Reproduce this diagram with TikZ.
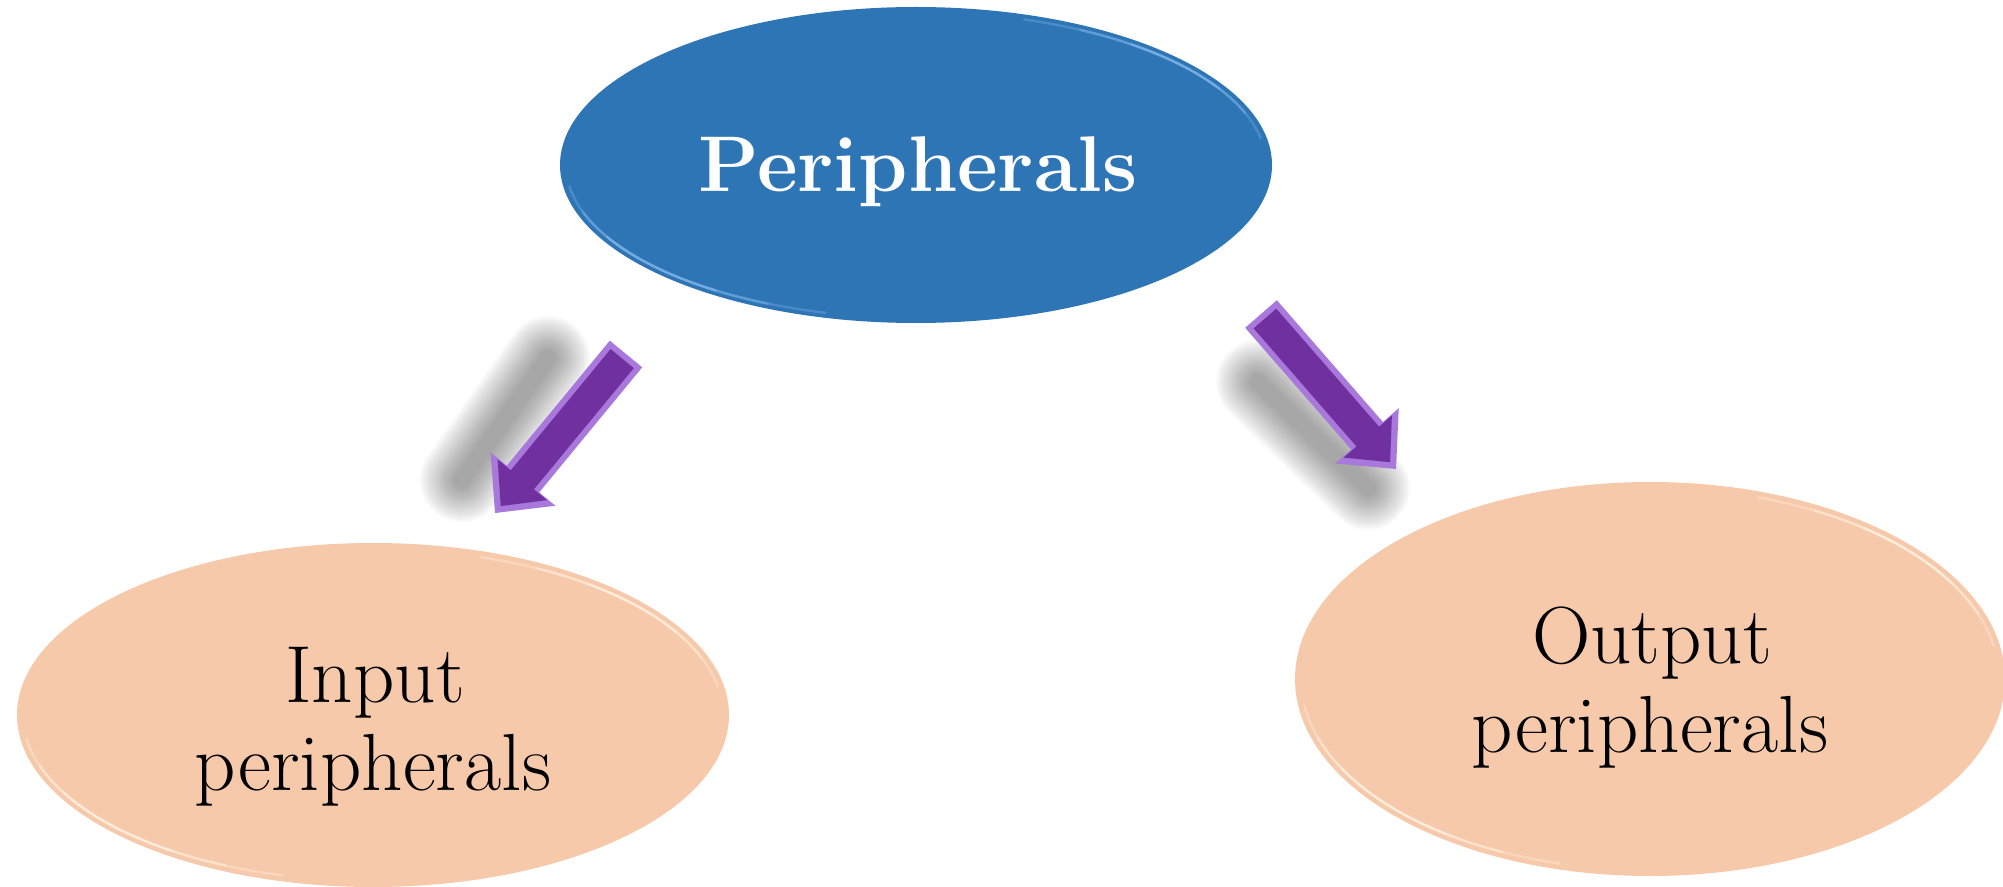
\documentclass[tikz,border=0pt]{standalone}
\usepackage{fontspec}
\usetikzlibrary{shapes.geometric,calc}
\definecolor{topblue}{HTML}{2E75B6}
\definecolor{rimblue}{HTML}{8CC0F0}
\definecolor{peach}{HTML}{F6C9AB}
\definecolor{rimpeach}{HTML}{FFF8EA}
\definecolor{arrowpurple}{HTML}{7030A0}
\definecolor{arrowlight}{HTML}{A878DA}
% #1 tail, #2 tip, #3 half shaft width, #4 half head width, #5 head length, #6 path options
\newcommand\arrowshape[6]{%
  \coordinate (nk) at ($(#2)!#5!(#1)$);
  \path[#6] ($(#1)!#3!90:(#2)$) -- ($(nk)!#3!90:(#2)$) -- ($(nk)!#4!90:(#2)$)
    -- (#2) -- ($(nk)!#4!-90:(#2)$) -- ($(nk)!#3!-90:(#2)$) -- ($(#1)!#3!-90:(#2)$) -- cycle;
}
% #1 cx, #2 cy, #3 rx, #4 ry, #5 start, #6 end, #7 options
\newcommand\rimarc[7]{%
  \draw[#7] plot[domain=#5:#6, samples=40, smooth] ({#1+#3*cos(\x)},{#2+#4*sin(\x)});
}
\begin{document}
\begin{tikzpicture}[x=0.5pt,y=-0.5pt,
  ell/.style={ellipse, inner sep=0pt, draw=none},
  topell/.style={ell, fill=topblue},
  peachell/.style={ell, fill=peach},
  toptext/.style={anchor=base, inner sep=0pt, text=white, font=\fontsize{39.5}{44}\selectfont\bfseries},
  bodytext/.style={anchor=base, inner sep=0pt, text=black, font=\fontsize{40.5}{44}\selectfont},
  rimb/.style={draw=rimblue, line width=1.2pt, line cap=round},
  rimp/.style={draw=rimpeach, line width=1.2pt, line cap=round},
  shadowlayer/.style={draw=black, line cap=round, opacity=0.024}
]
\useasboundingbox (0,0) rectangle (2003,887);

% ellipses
\node[topell, minimum width=356pt, minimum height=158pt] (top) at (916,165) {};
\node[peachell, minimum width=356pt, minimum height=172pt] (inp) at (373,715) {};
\node[peachell, minimum width=355pt, minimum height=197pt] (outp) at (1650,679) {};

% rim highlights
\foreach \a/\b/\o in {105/172/0.3, 115/162/0.35, 125/152/0.45} {
  \rimarc{916}{165}{350}{153}{\a}{\b}{rimb, opacity=\o}
  \rimarc{373}{715}{350}{166}{\a}{\b}{rimp, opacity=\o}
  \rimarc{1650}{679}{349}{191}{\a}{\b}{rimp, opacity=\o}
}
\foreach \a/\b/\o in {288/350/0.3, 298/340/0.35, 308/330/0.45} {
  \rimarc{916}{165}{350}{153}{\a}{\b}{rimb, opacity=\o}
  \rimarc{373}{715}{350}{166}{\a}{\b}{rimp, opacity=\o}
  \rimarc{1650}{679}{349}{191}{\a}{\b}{rimp, opacity=\o}
}

% texts
\node[toptext] (toptxt) at (918,192) {Peripherals};
\node[bodytext] (inptxt1) at (375,702) {Input};
\node[bodytext] (inptxt2) at (373,790) {peripherals};
\node[bodytext] (outtxt1) at (1652,663) {Output};
\node[bodytext] (outtxt2) at (1650,752) {peripherals};

% arrow end points
\coordinate (lT) at (626,354);
\coordinate (lP) at (495,513);
\coordinate (rT) at (1261,314);
\coordinate (rP) at (1396,469);

% soft shadows
\coordinate (lsA) at (548,358);
\coordinate (lsB) at (462,480);
\coordinate (rsA) at (1258,382);
\coordinate (rsB) at (1368,488);
\foreach \w in {42,40,38,36,34,32,30,28,26,24,22,20,18,16,14,12,10,8} {
  \draw[shadowlayer, line width=\w pt] (lsA) -- (lsB);
  \draw[shadowlayer, line width=\w pt] (rsA) -- (rsB);
}

% arrows (bevelled)
\arrowshape{lT}{lP}{10.5pt}{21pt}{22pt}{fill=arrowlight}
\arrowshape{rT}{rP}{10.5pt}{21pt}{22pt}{fill=arrowlight}
\coordinate (lTi) at ($(lT)!3pt!(lP)$);
\coordinate (lPi) at ($(lP)!4.5pt!(lT)$);
\coordinate (rTi) at ($(rT)!3pt!(rP)$);
\coordinate (rPi) at ($(rP)!4.5pt!(rT)$);
\arrowshape{lTi}{lPi}{7.5pt}{16pt}{17pt}{fill=arrowpurple}
\arrowshape{rTi}{rPi}{7.5pt}{16pt}{17pt}{fill=arrowpurple}
\end{tikzpicture}
\end{document}
